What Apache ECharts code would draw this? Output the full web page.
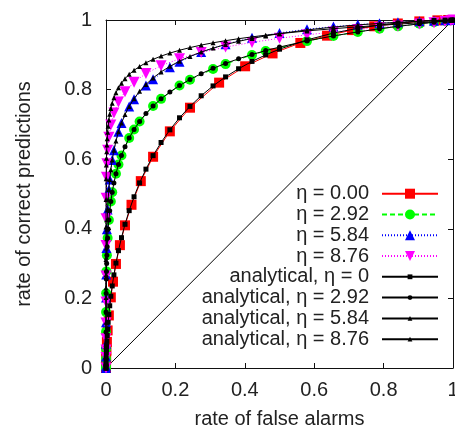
<!DOCTYPE html>
<html>
<head>
<meta charset="utf-8">
<script src="https://cdn.jsdelivr.net/npm/echarts@6/dist/echarts.min.js"></script>
<style>
html,body{margin:0;padding:0;background:#fff;}
#c{width:455px;height:427px;}
</style>
</head>
<body>
<div id="c"></div>
<script>
// ---- data ----
const xTicks = [0, 0.2, 0.4, 0.6, 0.8, 1];
const yTicks = [0, 0.2, 0.4, 0.6, 0.8, 1];
const seriesNames = ["η = 0.00", "η = 2.92", "η = 5.84", "η = 8.76",
  "analytical, η = 0", "analytical, η = 2.92", "analytical, η = 5.84", "analytical, η = 8.76"];

const dataEta000 = [[0,0],[0,0.004],[0.0002,0.013],[0.0005,0.027],[0.0013,0.050],[0.0026,0.075],[0.0047,0.108],[0.0082,0.151],[0.0139,0.203],[0.0202,0.248],[0.0287,0.299],[0.0401,0.353],[0.0548,0.410],[0.0735,0.469],[0.1003,0.537],[0.1357,0.607],[0.184,0.680],[0.242,0.748],[0.326,0.820],[0.401,0.867],[0.480,0.904],[0.560,0.934],[0.637,0.955],[0.709,0.971],[0.773,0.982],[0.841,0.990],[0.903,0.996],[0.955,0.999],[0.986,1.0],[1,1]];

const dataEta292 = [[0,0],[0,0.0047],[0,0.0268],[0,0.0553],[0.00003,0.1038],[0.00016,0.1606],[0.00048,0.2145],[0.00135,0.2776],[0.0026,0.3242],[0.0047,0.3737],[0.0082,0.4254],[0.0139,0.4785],[0.0179,0.5052],[0.0287,0.5584],[0.0359,0.5847],[0.0446,0.6106],[0.0668,0.6609],[0.0808,0.6851],[0.0968,0.7085],[0.1357,0.7527],[0.1587,0.7734],[0.2119,0.8116],[0.2420,0.8282],[0.3085,0.8590],[0.3446,0.8733],[0.4207,0.8995],[0.4602,0.9110],[0.5793,0.9393],[0.6554,0.9538],[0.7257,0.9658],[0.7881,0.9748],[0.8413,0.9817],[0.9032,0.9890],[0.9452,0.9936],[0.9772,0.9971],[0.9938,0.9990],[1,1]];

const dataEta584 = [[0,0],[0,0.0052],[0,0.0329],[0,0.0694],[0.00003,0.1314],[0.00016,0.2027],[0.00048,0.2689],[0.00135,0.3446],[0.0026,0.3990],[0.0047,0.4554],[0.0082,0.5128],[0.0107,0.5414],[0.0179,0.5979],[0.0228,0.6255],[0.0359,0.6787],[0.0446,0.7040],[0.0668,0.7517],[0.0808,0.7720],[0.1151,0.8120],[0.1357,0.8300],[0.1841,0.8640],[0.2119,0.8800],[0.2743,0.9079],[0.3446,0.9305],[0.4207,0.9490],[0.5,0.9630],[0.5793,0.9735],[0.6554,0.9810],[0.7257,0.9868],[0.7881,0.9908],[0.8413,0.9937],[0.9032,0.9966],[0.9452,0.9982],[0.9772,0.9993],[0.9938,0.9998],[1,1]];

const dataEta876 = [[0,0],[0,0.0301],[0,0.0516],[0,0.0838],[0,0.1292],[0,0.1894],[0,0.2643],[0.00003,0.3520],[0.00016,0.4286],[0.00048,0.4880],[0.00135,0.5478],[0.0026,0.5871],[0.0047,0.6255],[0.0082,0.6628],[0.0139,0.6985],[0.0228,0.7324],[0.0359,0.7642],[0.0548,0.7939],[0.0808,0.8212],[0.1151,0.8461],[0.1587,0.8686],[0.2119,0.8888],[0.2743,0.9066],[0.3446,0.9222],[0.4207,0.9357],[0.5,0.9474],[0.5793,0.9573],[0.6554,0.9656],[0.7257,0.9726],[0.7881,0.9783],[0.8413,0.9830],[0.9032,0.9884],[0.9452,0.9922],[0.9772,0.9956],[0.9938,0.9979],[1,1]];

const anaEta000 = [[0,0],[0.00003,0.0044],[0.00016,0.0132],[0.00048,0.0274],[0.00097,0.0427],[0.00135,0.0526],[0.0019,0.0643],[0.0026,0.0778],[0.0035,0.0934],[0.0047,0.1112],[0.0062,0.1314],[0.0082,0.1539],[0.0107,0.1788],[0.0139,0.2061],[0.0179,0.2358],[0.0228,0.2676],[0.0287,0.3015],[0.0359,0.3372],[0.0446,0.3745],[0.0548,0.4129],[0.0668,0.4522],[0.0808,0.4920],[0.0968,0.5319],[0.1151,0.5714],[0.1357,0.6103],[0.1587,0.6480],[0.1841,0.6844],[0.2119,0.7190],[0.2420,0.7517],[0.2743,0.7823],[0.3085,0.8106],[0.3446,0.8365],[0.3821,0.8599],[0.4207,0.8810],[0.4602,0.8997],[0.5,0.9162],[0.5793,0.9429],[0.6554,0.9625],[0.7257,0.9761],[0.7881,0.9854],[0.8413,0.9913],[0.9032,0.9963],[0.9452,0.9986],[0.9772,0.9996],[0.9938,0.99995],[1,1]];

const anaEta292 = [[0,0],[0,0.0047],[0,0.0118],[0,0.0268],[0,0.0553],[0.00003,0.1038],[0.00016,0.1606],[0.00048,0.2145],[0.00097,0.2556],[0.00135,0.2776],[0.0019,0.3005],[0.0026,0.3242],[0.0035,0.3486],[0.0047,0.3737],[0.0062,0.3994],[0.0082,0.4254],[0.0107,0.4518],[0.0139,0.4785],[0.0179,0.5052],[0.0228,0.5319],[0.0287,0.5584],[0.0359,0.5847],[0.0446,0.6106],[0.0548,0.6361],[0.0668,0.6609],[0.0808,0.6851],[0.0968,0.7085],[0.1151,0.7311],[0.1357,0.7527],[0.1587,0.7734],[0.1841,0.7930],[0.2119,0.8116],[0.2420,0.8292],[0.2743,0.8457],[0.3085,0.8610],[0.3446,0.8753],[0.3821,0.8886],[0.4207,0.9008],[0.4602,0.9120],[0.5,0.9222],[0.5793,0.9399],[0.6554,0.9543],[0.7257,0.9658],[0.7881,0.9748],[0.8413,0.9817],[0.9032,0.9890],[0.9452,0.9936],[0.9772,0.9971],[0.9938,0.9990],[1,1]];

const anaEta584 = [[0,0],[0,0.0052],[0,0.0139],[0,0.0329],[0,0.0694],[0.00003,0.1314],[0.00016,0.2027],[0.00048,0.2689],[0.00097,0.3185],[0.00135,0.3446],[0.0019,0.3715],[0.0026,0.3990],[0.0035,0.4270],[0.0047,0.4554],[0.0062,0.4840],[0.0082,0.5128],[0.0107,0.5414],[0.0139,0.5699],[0.0179,0.5979],[0.0228,0.6255],[0.0287,0.6525],[0.0359,0.6787],[0.0446,0.7040],[0.0548,0.7284],[0.0668,0.7517],[0.0808,0.7740],[0.0968,0.7950],[0.1151,0.8149],[0.1357,0.8335],[0.1587,0.8508],[0.1841,0.8669],[0.2119,0.8818],[0.2420,0.8954],[0.2743,0.9079],[0.3085,0.9192],[0.3446,0.9295],[0.3821,0.9387],[0.4207,0.9470],[0.4602,0.9543],[0.5,0.9608],[0.5793,0.9715],[0.6554,0.9797],[0.7257,0.9858],[0.7881,0.9903],[0.8413,0.9934],[0.9032,0.9965],[0.9452,0.9982],[0.9772,0.9993],[0.9938,0.9998],[1,1]];

const anaEta876 = [[0,0],[0,0.0031],[0,0.0125],[0,0.0233],[0,0.0409],[0,0.0681],[0,0.1075],[0,0.1611],[0,0.2296],[0,0.3121],[0.00003,0.4052],[0.00016,0.4840],[0.00048,0.5438],[0.00097,0.5832],[0.00135,0.6026],[0.0019,0.6217],[0.0026,0.6406],[0.0035,0.6591],[0.0047,0.6772],[0.0062,0.6950],[0.0082,0.7123],[0.0107,0.7291],[0.0139,0.7454],[0.0179,0.7611],[0.0228,0.7764],[0.0287,0.7910],[0.0359,0.8051],[0.0446,0.8186],[0.0548,0.8315],[0.0668,0.8438],[0.0808,0.8554],[0.0968,0.8665],[0.1151,0.8770],[0.1357,0.8869],[0.1587,0.8962],[0.1841,0.9049],[0.2119,0.9131],[0.2420,0.9207],[0.2743,0.9279],[0.3085,0.9345],[0.3446,0.9406],[0.3821,0.9463],[0.4207,0.9515],[0.4602,0.9564],[0.5,0.9608],[0.5793,0.9686],[0.6554,0.9750],[0.7257,0.9803],[0.7881,0.9846],[0.8413,0.9881],[0.9032,0.9920],[0.9452,0.9948],[0.9772,0.9971],[0.9938,0.9987],[1,1]];

const diagonal = [[0,0],[1,1]];

// ---- chart ----
const FONT = 'Liberation Sans';
const FS = 20;
const TXT = '#222';
const AX = '#111';

function lineSeries(name, data, color, dash, symbol, size, rotate, z) {
  return {
    name: name, type: 'line', data: data, z: z,
    symbol: symbol, symbolSize: size, symbolRotate: rotate || 0,
    showSymbol: true, showAllSymbol: true, clip: false, animation: false, silent: true,
    lineStyle: { color: color, width: 1, type: dash },
    itemStyle: { color: color, borderWidth: 0 },
    emphasis: { disabled: true }
  };
}

const series = [
  { type: 'line', data: diagonal, symbol: 'none', z: 1, animation: false, silent: true,
    lineStyle: { color: '#000', width: 1 }, clip: true },
  lineSeries(seriesNames[0], dataEta000, '#ff0000', 'solid', 'rect', 10, 0, 2),
  lineSeries(seriesNames[1], dataEta292, '#00ff00', [5, 3], 'circle', 10, 0, 2),
  lineSeries(seriesNames[2], dataEta584, '#0000ff', [1, 2], 'triangle', 10, 0, 2),
  lineSeries(seriesNames[3], dataEta876, '#ff00ff', [1, 2], 'triangle', 11, 180, 2),
  lineSeries(seriesNames[4], anaEta000, '#000', 'solid', 'rect', 5, 0, 3),
  lineSeries(seriesNames[5], anaEta292, '#000', 'solid', 'circle', 5, 0, 3),
  lineSeries(seriesNames[6], anaEta584, '#000', 'solid', 'triangle', 5, 0, 3),
  lineSeries(seriesNames[7], anaEta876, '#000', 'solid', 'triangle', 5, 0, 3)
];

const rowCenters = [193.7, 214.5, 235.3, 256, 276.8, 297.6, 318.4, 339.2];
const legends = seriesNames.map(function (n, i) {
  return {
    data: [n], orient: 'vertical', align: 'right', right: 16, top: rowCenters[i] - 10,
    itemWidth: 56, itemHeight: i < 4 ? 12.5 : 6, padding: 0, itemGap: 0,
    selectedMode: false,
    textStyle: { fontFamily: FONT, fontSize: FS, color: TXT, lineHeight: 20, padding: [0, 8, 0, 0] }
  };
});

function axisCommon(extra) {
  return Object.assign({
    type: 'value', min: 0, max: 1, interval: 0.2,
    axisLine: { show: true, onZero: false, lineStyle: { color: AX, width: 1 } },
    axisTick: { show: true, inside: true, length: 5, lineStyle: { color: AX } },
    splitLine: { show: false }
  }, extra);
}

function tickFmt(list) {
  return function (v) {
    const t = list.find(function (t) { return Math.abs(t - v) < 1e-9; });
    return String(t === undefined ? v : t);
  };
}

const option = {
  animation: false,
  backgroundColor: '#fff',
  grid: { left: 106, right: 2, top: 20, bottom: 59, containLabel: false, outerBoundsMode: 'none' },
  legend: legends,
  xAxis: [
    axisCommon({ position: 'bottom',
      axisLabel: { show: true, margin: 12, fontFamily: FONT, fontSize: FS, color: TXT, formatter: tickFmt(xTicks) },
      name: 'rate of false alarms', nameLocation: 'middle', nameGap: 41,
      nameTextStyle: { fontFamily: FONT, fontSize: FS, color: TXT } }),
    axisCommon({ position: 'top', axisLabel: { show: false } })
  ],
  yAxis: [
    axisCommon({ position: 'left',
      axisLabel: { show: true, margin: 14, fontFamily: FONT, fontSize: FS, color: TXT, formatter: tickFmt(yTicks) },
      name: 'rate of correct predictions', nameLocation: 'middle', nameGap: 72,
      nameTextStyle: { fontFamily: FONT, fontSize: FS, color: TXT } }),
    axisCommon({ position: 'right', axisLabel: { show: false } })
  ],
  series: series
};

const chart = echarts.init(document.getElementById('c'), null, { renderer: 'canvas' });
chart.setOption(option);
</script>
</body>
</html>
